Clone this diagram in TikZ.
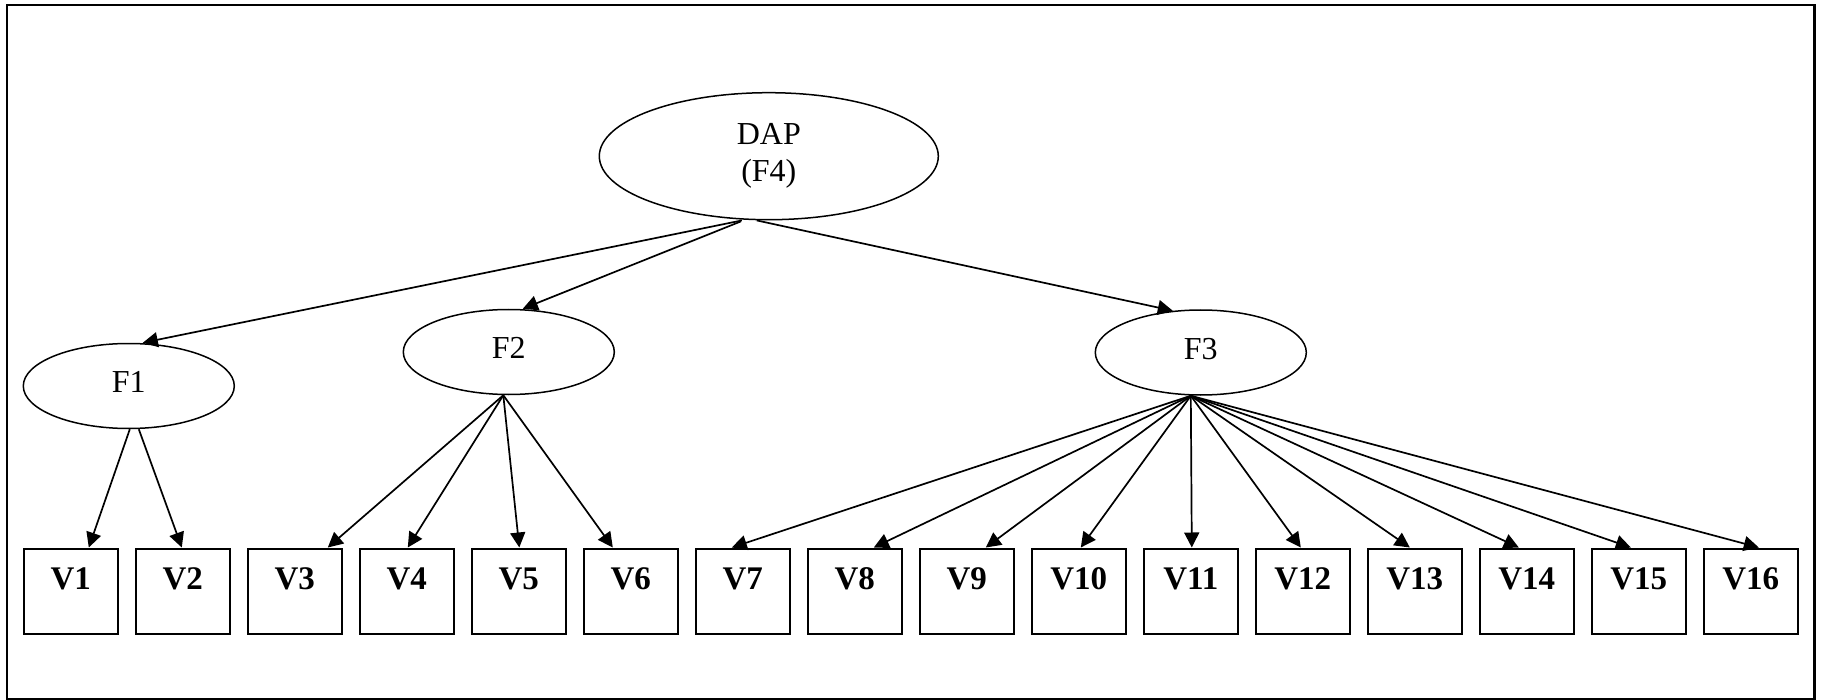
\documentclass[tikz,border=0pt]{standalone}
\usepackage{fontspec}
\setmainfont{Liberation Serif}
\usetikzlibrary{arrows.meta,calc,shapes.geometric}
\begin{document}
\begin{tikzpicture}[x=1pt,y=-1pt,
  factor/.style={ellipse, draw, line width=1.5pt, inner sep=0pt,
    minimum width=211pt, minimum height=85pt,
    font=\fontsize{32}{37}\selectfont, text height=21pt, text depth=8pt},
  item/.style={rectangle, draw, line width=2pt, inner sep=0pt,
    minimum width=94pt, minimum height=85pt,
    font=\bfseries\fontsize{33}{33}\selectfont, text height=22pt, text depth=26pt},
  link/.style={line width=1.7pt, -{Triangle[length=15pt,width=15pt]}}]

\useasboundingbox (0,0) rectangle (1827,700);
\draw[line width=2.3pt] (7,5) rectangle (1814.5,699);

% second-order factor
\node[ellipse, draw, line width=1.5pt, inner sep=0pt,
      minimum width=339pt, minimum height=127pt, align=center,
      font=\fontsize{32}{37}\selectfont] (DAP) at (768.8,156.2) {DAP\\(F4)};

% first-order factors
\node[factor] (F1) at (128.8,386) {F1};
\node[factor] (F2) at (508.8,352) {F2};
\node[factor] (F3) at (1200.8,352.5) {F3};

% observed variables
\foreach \i in {1,...,16}
  \node[item] (V\i) at ({70.8+112*(\i-1)},591) {V\i};

% loadings of the factors on DAP
\draw[link] ($(DAP.south)+(-27,0)$) -- ($(F1.north)+(14,0)$);
\draw[link] ($(DAP.south)+(-28,1)$) -- ($(F2.north)+(14,0)$);
\draw[link] ($(DAP.south)+(-12,0)$) -- ($(F3.north)+(-28,1.5)$);

% F1 indicators
\draw[link] ($(F1.south)+(1,0)$) -- ($(V1.north)+(18,0)$);
\draw[link] ($(F1.south)+(10,0)$) -- ($(V2.north)+(-1,0)$);

% F2 indicators
\foreach \t/\o in {3/33,4/1,5/0.5,6/-18}
  \draw[link] ($(F2.south)+(-5.5,0)$) -- ($(V\t.north)+(\o,0)$);

% F3 indicators
\foreach \t/\o in {7/-11,8/19,9/19,10/2,11/1,12/-2,13/-5,14/-8,15/-8,16/8}
  \draw[link] ($(F3.south)+(-10,0)$) -- ($(V\t.north)+(\o,0)$);
\end{tikzpicture}
\end{document}
